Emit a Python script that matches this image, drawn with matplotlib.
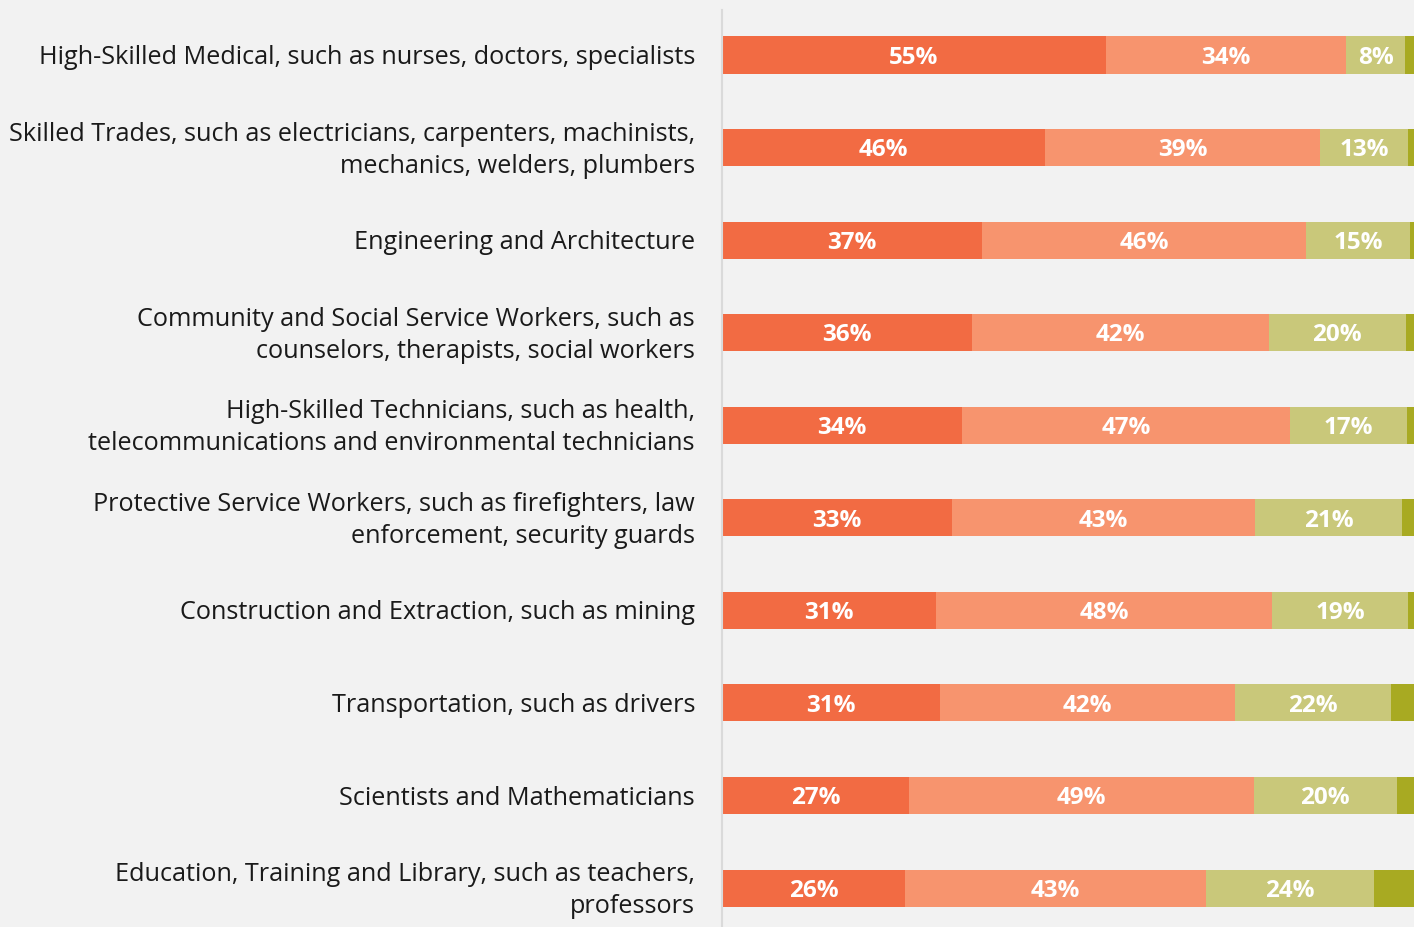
import matplotlib
matplotlib.use("Agg")
import matplotlib.pyplot as plt
import numpy as np

categories = [
    "High-Skilled Medical, such as nurses, doctors, specialists",
    "Skilled Trades, such as electricians, carpenters, machinists,\nmechanics, welders, plumbers",
    "Engineering and Architecture",
    "Community and Social Service Workers, such as\ncounselors, therapists, social workers",
    "High-Skilled Technicians, such as health,\ntelecommunications and environmental technicians",
    "Protective Service Workers, such as firefighters, law\nenforcement, security guards",
    "Construction and Extraction, such as mining",
    "Transportation, such as drivers",
    "Scientists and Mathematicians",
    "Education, Training and Library, such as teachers,\nprofessors",
]
seg1 = [54.9, 46.2, 37.2, 35.8, 34.3, 32.9, 30.6, 31.2, 26.8, 26.2]
seg2 = [34.4, 39.4, 46.4, 42.4, 47.0, 43.4, 48.1, 42.2, 49.3, 43.0]
seg3 = [8.4, 12.6, 14.8, 19.6, 16.7, 21.0, 19.4, 22.3, 20.4, 24.1]
seg4 = [2.3, 1.8, 1.6, 2.2, 2.0, 2.7, 1.9, 4.3, 3.5, 6.7]

colors = ["#F26B43", "#F7946E", "#C9C87A", "#A8AA22"]

plt.rcParams['font.family'] = ['Open Sans', 'DejaVu Sans']

fig = plt.figure(figsize=(14.14, 9.27), dpi=100)
fig.patch.set_facecolor("#F2F2F2")
ax = fig.add_axes([722 / 1414, 0, 1 - 722 / 1414, 917 / 927])
ax.set_facecolor("#F2F2F2")

y = np.arange(len(categories))
left = np.zeros(len(categories))
segs = [seg1, seg2, seg3, seg4]
for k, (vals, c) in enumerate(zip(segs, colors)):
    vals = np.array(vals)
    ax.barh(y, vals, left=left, height=0.4, color=c, edgecolor="none")
    if k < 3:
        for yi, l, v in zip(y, left, vals):
            ax.text(l + v / 2, yi + 0.095, f"{round(v)}%", ha="center", va="baseline",
                    color="white", fontsize=17.5, fontweight="bold")
    left = left + vals

ax.set_xlim(0, (1414 - 722) / 6.99)
ax.set_ylim(9.42, -0.486)

# category labels, each line placed separately
line_gap = 0.3456
cap_half = 0.097
trans = ax.get_yaxis_transform()
for i, cat in enumerate(categories):
    lines = cat.split("\n")
    n = len(lines)
    for j, line in enumerate(lines):
        yl = i + (j - (n - 1) / 2) * line_gap + cap_half
        ax.text(-27 / 692, yl, line, transform=trans, ha="right", va="baseline",
                fontsize=18.2, color="#1a1a1a")

ax.set_yticks([])
ax.set_xticks([])
for s in ["top", "right", "bottom"]:
    ax.spines[s].set_visible(False)
ax.spines["left"].set_color("#DADADA")
ax.spines["left"].set_linewidth(1.5)

fig.savefig("out.png", dpi=100, facecolor=fig.get_facecolor())
